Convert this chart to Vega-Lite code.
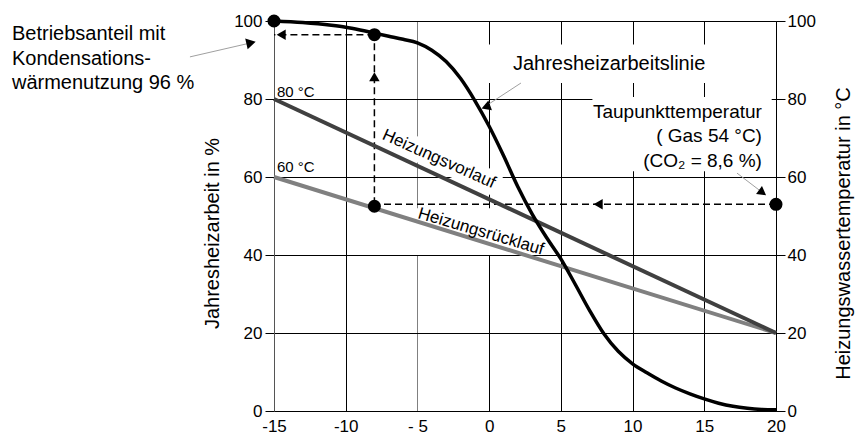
{
  "$schema": "https://vega.github.io/schema/vega-lite/v6.json",
  "autosize": {"type": "none"},
  "padding": {"left": 274, "top": 21, "right": 80, "bottom": 25},
  "width": 502,
  "height": 390,
  "background": "white",
  "config": {
    "view": {"stroke": null},
    "font": "Liberation Sans",
    "axis": {
      "labelFont": "Liberation Sans", "titleFont": "Liberation Sans",
      "labelColor": "#000", "titleColor": "#000",
      "labelFontSize": 17, "titleFontSize": 20, "titleFontWeight": "normal",
      "domainColor": "#000", "tickColor": "#000", "gridColor": "#000", "gridOpacity": 1,
      "domainWidth": 1, "tickWidth": 1, "gridWidth": 1
    },
    "text": {"font": "Liberation Sans", "color": "#000"}
  },
  "datasets": {
    "curve": [
      {"x": -15, "y": 100}, {"x": -13, "y": 99.6}, {"x": -11, "y": 98.9}, {"x": -10, "y": 98.4},
      {"x": -9, "y": 97.7}, {"x": -8, "y": 96.9}, {"x": -7, "y": 96.1}, {"x": -6, "y": 95.3},
      {"x": -5, "y": 94.4}, {"x": -4, "y": 92.5}, {"x": -3, "y": 89.6}, {"x": -2, "y": 85.3},
      {"x": -1, "y": 79.6}, {"x": 0, "y": 73}, {"x": 1, "y": 65.5}, {"x": 2, "y": 57.5},
      {"x": 3, "y": 50.5}, {"x": 4, "y": 44.5}, {"x": 5, "y": 39}, {"x": 6, "y": 32.5},
      {"x": 7, "y": 25.8}, {"x": 8, "y": 19.8}, {"x": 9, "y": 15.3}, {"x": 10, "y": 12.1},
      {"x": 11, "y": 9.8}, {"x": 12, "y": 7.7}, {"x": 13, "y": 5.9}, {"x": 14, "y": 4.4},
      {"x": 15, "y": 3.1}, {"x": 16, "y": 2.0}, {"x": 17, "y": 1.2}, {"x": 18, "y": 0.7},
      {"x": 19, "y": 0.4}, {"x": 20, "y": 0.3}
    ],
    "temps": [
      {"series": "Heizungsrücklauf", "x": -15, "y": 60}, {"series": "Heizungsrücklauf", "x": 20, "y": 20},
      {"series": "Heizungsvorlauf", "x": -15, "y": 80}, {"series": "Heizungsvorlauf", "x": 20, "y": 20}
    ],
    "dashes": [
      {"seg": "a", "i": 0, "x": 20, "y": 53}, {"seg": "a", "i": 1, "x": -8, "y": 53},
      {"seg": "b", "i": 0, "x": -8, "y": 53}, {"seg": "b", "i": 1, "x": -8, "y": 96.5},
      {"seg": "c", "i": 0, "x": -8, "y": 96.5}, {"seg": "c", "i": 1, "x": -15, "y": 96.5}
    ],
    "boxes": [
      {"x": -0.6, "x2": 15.9, "y": 84.1, "y2": 94},
      {"x": 7.2, "x2": 19.7, "y": 61.5, "y2": 80.5},
      {"x": -5.17, "x2": 4.03, "y": 40.0, "y2": 52.0}
    ],
    "band": [
      {"x": -7.47, "y": 71.13}, {"x": 0.69, "y": 57.77}
    ],
    "leaders": [
      {"id": "b", "x": -20.86, "y": 90.8}, {"id": "b", "x": -16.6, "y": 94.4},
      {"id": "j", "x": 2.22, "y": 84.1}, {"id": "j", "x": -0.11, "y": 78.5},
      {"id": "t", "x": 17.28, "y": 61.0}, {"id": "t", "x": 19.06, "y": 56.0}
    ],
    "dots": [
      {"x": -15, "y": 100}, {"x": -8, "y": 96.5}, {"x": -8, "y": 52.5}, {"x": 20, "y": 53}
    ]
  },
  "layer": [
    {
      "encoding": {
        "x": {
          "field": "x", "type": "quantitative",
          "scale": {"domain": [-15, 20], "nice": false, "zero": false},
          "axis": {
            "title": null, "values": [-15, -10, -5, 0, 5, 10, 15, 20],
            "grid": true,
            "gridColor": {"condition": {"test": "datum.value === -5", "value": "#808080"}, "value": "#000"},
            "ticks": false, "labelPadding": 7, "labelFlush": false, "labelOverlap": false,
            "labelExpr": "datum.value === -5 ? '- 5' : (datum.value < 0 ? '-' + abs(datum.value) : '' + datum.value)"
          }
        },
        "y": {
          "field": "y", "type": "quantitative",
          "scale": {"domain": [0, 100], "nice": false, "zero": false},
          "axis": {
            "title": "Jahresheizarbeit in %", "values": [0, 20, 40, 60, 80, 100],
            "grid": true, "tickSize": 9, "labelPadding": 3, "labelFlush": false,
            "domainColor": "#555",
            "titleX": -62, "titleY": 212, "titleAngle": 270, "titleAlign": "center", "titleBaseline": "middle"
          }
        }
      },
      "layer": [
        {
          "data": {"name": "dashes"},
          "mark": {"type": "line", "color": "#000", "strokeWidth": 1.5, "strokeDash": [7, 4]},
          "encoding": {"detail": {"field": "seg"}, "order": {"field": "i"}}
        },
        {
          "data": {"name": "boxes"},
          "mark": {"type": "rect", "fill": "white"},
          "encoding": {"x2": {"field": "x2"}, "y2": {"field": "y2"}}
        },
        {
          "data": {"name": "band"},
          "mark": {"type": "line", "color": "white", "strokeWidth": 24, "strokeCap": "butt"},
          "encoding": {}
        },
        {
          "data": {"name": "temps"},
          "mark": {"type": "line", "strokeWidth": 4},
          "encoding": {
            "color": {"field": "series", "type": "nominal",
              "scale": {"domain": ["Heizungsvorlauf", "Heizungsrücklauf"], "range": ["#404040", "#808080"]},
              "legend": null}
          }
        },
        {
          "data": {"name": "curve"},
          "mark": {"type": "line", "color": "#000", "strokeWidth": 3.5, "interpolate": "monotone"},
          "encoding": {}
        },
        {
          "data": {"name": "leaders"},
          "mark": {"type": "line", "color": "#a0a0a0", "strokeWidth": 1},
          "encoding": {"detail": {"field": "id"}}
        },
        {
          "data": {"name": "dots"},
          "mark": {"type": "point", "shape": "circle", "filled": true, "color": "#000", "size": 170, "opacity": 1},
          "encoding": {}
        },
        {
          "data": {"values": [{"x": -14.5, "y": 96.5}, {"x": 7.6, "y": 53}]},
          "mark": {"type": "point", "shape": "triangle-left", "filled": true, "color": "#000", "size": 110, "opacity": 1},
          "encoding": {}
        },
        {
          "data": {"values": [{"x": -8, "y": 85.7}]},
          "mark": {"type": "point", "shape": "triangle-up", "filled": true, "color": "#000", "size": 110, "opacity": 1},
          "encoding": {}
        },
        {
          "data": {"values": [{"x": -16.6, "y": 94.4}]},
          "mark": {"type": "point", "shape": "triangle-right", "angle": -13, "filled": true, "color": "#000", "size": 120, "opacity": 1},
          "encoding": {}
        },
        {
          "data": {"values": [{"x": -0.11, "y": 78.5}]},
          "mark": {"type": "point", "shape": "triangle-up", "angle": 10, "filled": true, "color": "#000", "size": 110, "opacity": 1},
          "encoding": {}
        },
        {
          "data": {"values": [{"x": 19.06, "y": 56.0}]},
          "mark": {"type": "point", "shape": "triangle-right", "angle": 36, "filled": true, "color": "#000", "size": 100, "opacity": 1},
          "encoding": {}
        },
        {
          "data": {"values": [
            {"t": "Betriebsanteil mit", "x": -33.27, "y": 95.1},
            {"t": "Kondensations-", "x": -33.27, "y": 88.8},
            {"t": "wärmenutzung 96 %", "x": -33.27, "y": 82.6},
            {"t": "Jahresheizarbeitslinie", "x": 1.66, "y": 87.4}
          ]},
          "mark": {"type": "text", "align": "left", "baseline": "alphabetic", "fontSize": 20, "color": "#000"},
          "encoding": {"text": {"field": "t"}}
        },
        {
          "data": {"values": [
            {"t": "Taupunkttemperatur", "x": 19.02, "y": 75.1},
            {"t": "( Gas 54 °C)", "x": 19.02, "y": 69.0},
            {"t": "(CO₂ = 8,6 %)", "x": 19.02, "y": 62.6}
          ]},
          "mark": {"type": "text", "align": "right", "baseline": "alphabetic", "fontSize": 19, "color": "#000"},
          "encoding": {"text": {"field": "t"}}
        },
        {
          "data": {"values": [
            {"t": "80 °C", "x": -14.79, "y": 80.5},
            {"t": "60 °C", "x": -14.79, "y": 61.2}
          ]},
          "mark": {"type": "text", "align": "left", "baseline": "alphabetic", "fontSize": 15, "color": "#000"},
          "encoding": {"text": {"field": "t"}}
        },
        {
          "data": {"values": [{"t": "Heizungsvorlauf", "x": -3.5, "y": 64.6}]},
          "mark": {"type": "text", "align": "center", "baseline": "middle", "fontSize": 17, "angle": 24, "color": "#000"},
          "encoding": {"text": {"field": "t"}}
        },
        {
          "data": {"values": [{"t": "Heizungsrücklauf", "x": -0.57, "y": 46.0}]},
          "mark": {"type": "text", "align": "center", "baseline": "middle", "fontSize": 17, "angle": 16.5, "color": "#000"},
          "encoding": {"text": {"field": "t"}}
        }
      ]
    },
    {
      "data": {"values": [{"v": 0}, {"v": 100}]},
      "mark": {"type": "point", "opacity": 0},
      "encoding": {
        "y": {
          "field": "v", "type": "quantitative",
          "scale": {"domain": [0, 100], "nice": false, "zero": false},
          "axis": {
            "orient": "right", "title": "Heizungswassertemperatur in °C", "values": [0, 20, 40, 60, 80, 100],
            "grid": false, "tickSize": 9, "labelPadding": 2, "labelFlush": false,
            "titleX": 67, "titleY": 212, "titleAngle": 270, "titleAlign": "center", "titleBaseline": "middle"
          }
        }
      }
    }
  ],
  "resolve": {"scale": {"y": "independent"}}
}
